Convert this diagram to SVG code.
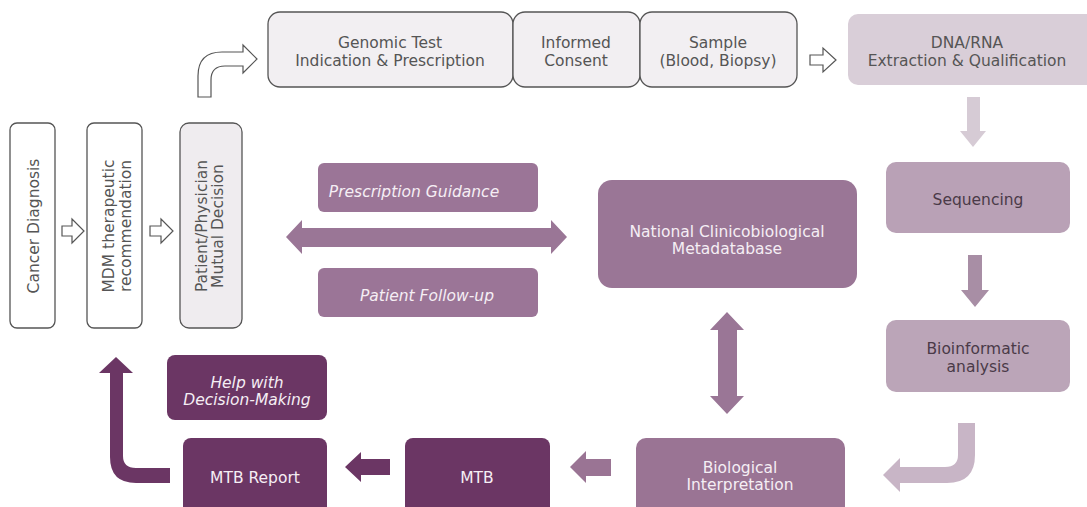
<svg xmlns="http://www.w3.org/2000/svg" width="1087" height="507" viewBox="0 0 1087 507">
<style>
text{font-family:"DejaVu Sans","Liberation Sans",sans-serif;font-size:15.5px;text-anchor:middle}
.lt{fill:#555}
.wt{fill:#f5eef4}
.dk{fill:#4a3a48}
.it{font-style:italic}
.outl{fill:#f2eff2;stroke:#555;stroke-width:1.3}
.hollow{fill:#fff;stroke:#555;stroke-width:1.2}
</style>
<rect width="1087" height="507" fill="#fff"/>
<g id="connectors">
<path class="hollow" d="M198,97 V76 Q198,52 222,52 H243 V45 L257,59 L243,73 V66 H225 Q211,66 211,80 V97 Z"/>
<path class="hollow" d="M810,55 H823 V48 L836,60 L823,72 V65 H810 Z"/>
<path class="hollow" d="M62,226 H72 V219 L84,231 L72,243 V236 H62 Z"/>
<path class="hollow" d="M150,226 H161 V219 L173,231 L161,243 V236 H150 Z"/>
<path fill="#d6cbd5" d="M967,97 H980 V131 H986 L973,147 L960,131 H967 Z"/>
<path fill="#a88ea5" d="M968,255 H982 V290 H989 L975,307 L961,290 H968 Z"/>
<path fill="#c8b5c6" d="M958,423 H975 V455 Q975,483 947,483 H900 V492 L883,475 L900,458 V467 H945 Q958,467 958,455 Z"/>
<path fill="#9a7696" d="M286,237 L302,220 V228 H551 V220 L567,237 L551,254 V247 H302 V254 Z"/>
<path fill="#9a7696" d="M727,312 L744,330 H737 V396 H744 L727,414 L710,396 H718 V330 H710 Z"/>
<path fill="#9a7494" d="M611,459 V476 H586 V483 L570,467 L586,451 V459 Z"/>
<path fill="#6b3664" d="M390,459 V475 H361 V482 L345,467 L361,452 V459 Z"/>
<path fill="#6b3664" d="M170,468 V483 H136 Q110,483 110,457 V373 H99 L116,357 L133,373 H123 V456 Q123,468 136,468 Z"/>
</g>
<g id="genomic-test">
<rect class="outl" x="268" y="12" width="245" height="75" rx="12"/>
<text class="lt" x="390" y="47.5">Genomic Test</text>
<text class="lt" x="390" y="65.5">Indication &amp; Prescription</text>
</g>
<g id="informed-consent">
<rect class="outl" x="513" y="12" width="127" height="75" rx="12"/>
<text class="lt" x="576" y="47.5">Informed</text>
<text class="lt" x="576" y="65.5">Consent</text>
</g>
<g id="sample">
<rect class="outl" x="640" y="12" width="157" height="75" rx="12"/>
<text class="lt" x="718" y="47.5">Sample</text>
<text class="lt" x="718" y="65.5">(Blood, Biopsy)</text>
</g>
<g id="dna-rna">
<rect x="848" y="14" width="250" height="71" rx="10" fill="#d9ced8"/>
<text class="lt" x="967" y="47.5">DNA/RNA</text>
<text class="lt" x="967" y="65.5">Extraction &amp; Qualification</text>
</g>
<g id="sequencing">
<rect x="886" y="162" width="184" height="71" rx="10" fill="#b9a1b6"/>
<text class="dk" x="978" y="204.5">Sequencing</text>
</g>
<g id="bioinformatic">
<rect x="886" y="320" width="184" height="72" rx="10" fill="#bba5b8"/>
<text class="dk" x="978" y="353.5">Bioinformatic</text>
<text class="dk" x="978" y="371.5">analysis</text>
</g>
<g id="biological-interpretation">
<rect x="636" y="438" width="209" height="80" rx="10" fill="#9a7494"/>
<text class="wt" x="740" y="472.5">Biological</text>
<text class="wt" x="740" y="490">Interpretation</text>
</g>
<g id="mtb">
<rect x="405" y="438" width="145" height="80" rx="8" fill="#6b3664"/>
<text class="wt" x="477" y="482.5">MTB</text>
</g>
<g id="mtb-report">
<rect x="183" y="438" width="144" height="80" rx="8" fill="#6b3664"/>
<text class="wt" x="255" y="482.5">MTB Report</text>
</g>
<g id="help-decision">
<rect x="167" y="355" width="160" height="65" rx="8" fill="#6b3664"/>
<text class="wt it" x="247" y="387.5">Help with</text>
<text class="wt it" x="247" y="404.5">Decision-Making</text>
</g>
<g id="national-db">
<rect x="598" y="180" width="259" height="108" rx="14" fill="#9a7696"/>
<text class="wt" x="727" y="237">National Clinicobiological</text>
<text class="wt" x="727" y="254">Metadatabase</text>
</g>
<g id="prescription-guidance">
<rect x="318" y="163" width="220" height="49" rx="6" fill="#9b7597"/>
<text class="wt it" x="414" y="196.5">Prescription Guidance</text>
</g>
<g id="patient-follow-up">
<rect x="318" y="268" width="220" height="49" rx="6" fill="#9b7597"/>
<text class="wt it" x="427" y="300.5">Patient Follow-up</text>
</g>
<g id="cancer-diagnosis">
<rect class="outl" x="10" y="123" width="45" height="205" rx="7" style="fill:#fff"/>
<text class="lt" transform="translate(33,226) rotate(-90)" y="5.5">Cancer Diagnosis</text>
</g>
<g id="mdm">
<rect class="outl" x="87" y="123" width="55" height="205" rx="7" style="fill:#fff"/>
<text class="lt" transform="translate(116.5,226) rotate(-90)" y="-3">MDM therapeutic</text>
<text class="lt" transform="translate(116.5,226) rotate(-90)" y="14">recommendation</text>
</g>
<g id="patient-physician">
<rect class="outl" x="180" y="123" width="62" height="205" rx="9" style="fill:#efecef"/>
<text class="lt" transform="translate(209,226) rotate(-90)" y="-2.5">Patient/Physician</text>
<text class="lt" transform="translate(209,226) rotate(-90)" y="13.5">Mutual Decision</text>
</g>
</svg>
